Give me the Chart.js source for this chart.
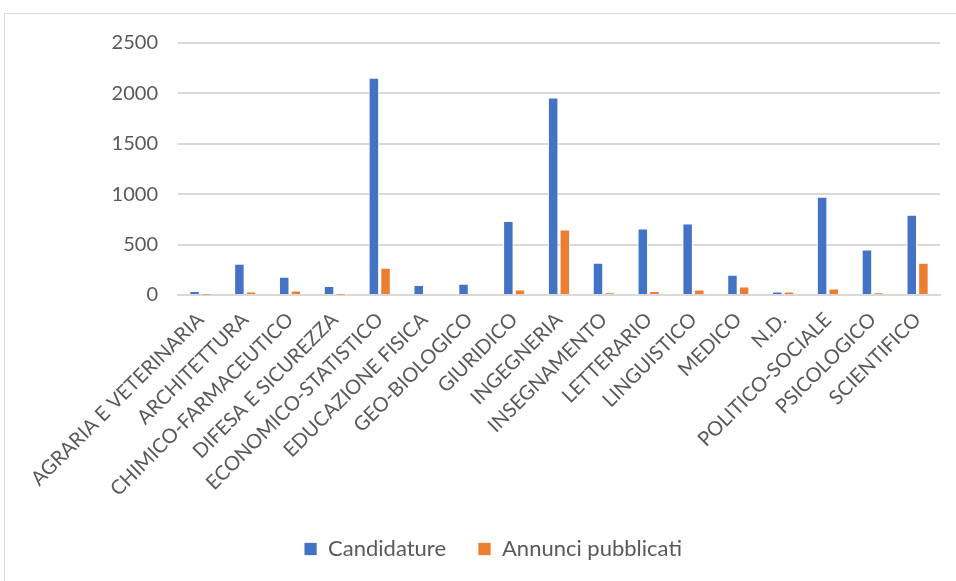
<!DOCTYPE html>
<html>
<head>
<meta charset="utf-8">
<script src="https://cdn.jsdelivr.net/npm/chart.js@4"></script>
<style>
    html, body { margin: 0; padding: 0; background: #fff; overflow: hidden; }
    #frame {
        position: absolute; left: 4px; top: 13px;
        width: 1000px; height: 600px;
        border: 1px solid #d9d9d9;
    }
    #wrap { position: absolute; left: 0; top: 0; width: 956px; height: 581px; }
</style>
</head>
<body>
<div id="frame"></div>
<div id="wrap"><canvas id="chart"></canvas></div>
<script>
// categories and series
const categories = [
    'AGRARIA E VETERINARIA', 'ARCHITETTURA', 'CHIMICO-FARMACEUTICO', 'DIFESA E SICUREZZA',
    'ECONOMICO-STATISTICO', 'EDUCAZIONE FISICA', 'GEO-BIOLOGICO', 'GIURIDICO',
    'INGEGNERIA', 'INSEGNAMENTO', 'LETTERARIO', 'LINGUISTICO', 'MEDICO', 'N.D.',
    'POLITICO-SOCIALE', 'PSICOLOGICO', 'SCIENTIFICO'
];
const candidature = [40, 310, 180, 90, 2155, 100, 110, 735, 1960, 320, 660, 710, 200, 35, 975, 450, 795];
const annunci = [2, 35, 45, 2, 270, 0, 10, 55, 650, 25, 40, 55, 85, 35, 65, 25, 320];
const yTicks = [0, 500, 1000, 1500, 2000, 2500];

const FONT = 'Lato, "Open Sans", sans-serif';
const TEXT = '#595959';

document.addEventListener('DOMContentLoaded', function() {
    const ctx = document.getElementById('chart').getContext('2d');
    new Chart(ctx, {
        type: 'bar',
        data: {
            labels: categories,
            datasets: [{
                label: 'Candidature',
                data: candidature,
                backgroundColor: '#4472c4',
                borderColor: '#ffffff',
                borderWidth: { left: 1, right: 1, top: 1, bottom: 0 },
                categoryPercentage: 0.52,
                barPercentage: 0.9
            }, {
                label: 'Annunci pubblicati',
                data: annunci,
                backgroundColor: '#ed7d31',
                borderColor: '#ffffff',
                borderWidth: { left: 1, right: 1, top: 1, bottom: 0 },
                categoryPercentage: 0.52,
                barPercentage: 0.9
            }]
        },
        options: {
            responsive: true,
            maintainAspectRatio: false,
            animation: false,
            layout: { padding: { left: 46, right: 16, top: 43, bottom: 11 } },
            plugins: {
                tooltip: { enabled: false },
                legend: {
                    position: 'bottom',
                    labels: {
                        color: TEXT,
                        font: { family: FONT, size: 22 },
                        boxWidth: 13,
                        boxHeight: 13,
                        padding: 32
                    }
                }
            },
            scales: {
                x: {
                    grid: { display: false },
                    border: { color: '#d9d9d9', width: 2 },
                    ticks: {
                        color: TEXT,
                        font: { family: FONT, size: 20 },
                        minRotation: 45,
                        maxRotation: 45,
                        autoSkip: false,
                        padding: 5
                    }
                },
                y: {
                    min: 0,
                    max: 2500,
                    afterBuildTicks: axis => { axis.ticks = yTicks.map(v => ({ value: v })); },
                    afterFit: axis => { axis.width = 132; },
                    grid: { color: '#d9d9d9', lineWidth: 2, drawTicks: false },
                    border: { display: false },
                    ticks: {
                        color: TEXT,
                        font: { family: FONT, size: 20 },
                        padding: 20,
                        callback: v => String(v)
                    }
                }
            }
        }
    });
});
</script>
</body>
</html>
